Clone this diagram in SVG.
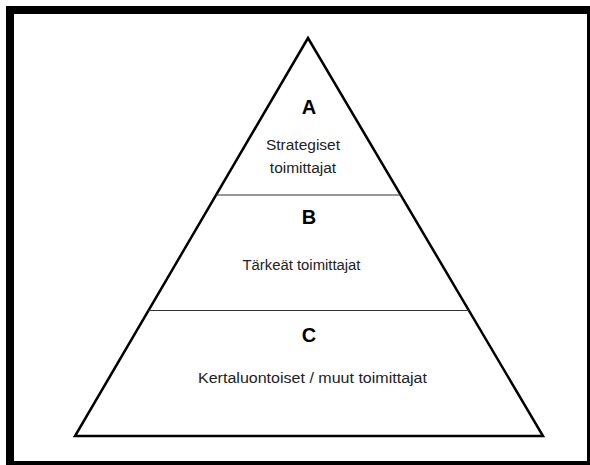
<svg xmlns="http://www.w3.org/2000/svg" width="590" height="465" viewBox="0 0 590 465">
<style>
.lbl{font-family:"Liberation Sans",Arial,sans-serif;font-size:15.5px;fill:#222;text-anchor:middle}
.big{font-family:"Liberation Sans",Arial,sans-serif;font-size:20px;font-weight:bold;fill:#000;text-anchor:middle}
.div{stroke:#333;stroke-width:1.2}
</style>
<rect x="0" y="0" width="590" height="465" fill="#fff"/>
<rect x="10" y="10" width="581" height="455" fill="none" stroke="#000" stroke-width="8"/>
<g id="pyramid">
<polygon points="308,38 75,436 543,436" fill="#fff" stroke="#000" stroke-width="2.5" stroke-linejoin="miter"/>
</g>
<g id="connectors">
<line class="div" x1="216" y1="195" x2="401" y2="195"/>
<line class="div" x1="148" y1="310.5" x2="469" y2="310.5"/>
</g>
<g id="tierA">
<text class="big" x="309" y="114">A</text>
<text class="lbl" x="303" y="150">Strategiset</text>
<text class="lbl" x="303" y="173">toimittajat</text>
</g>
<g id="tierB">
<text class="big" x="309" y="224">B</text>
<text class="lbl" x="301.5" y="270" textLength="118" lengthAdjust="spacingAndGlyphs">Tärkeät toimittajat</text>
</g>
<g id="tierC">
<text class="big" x="309" y="342">C</text>
<text class="lbl" x="312.5" y="383" textLength="229" lengthAdjust="spacingAndGlyphs">Kertaluontoiset / muut toimittajat</text>
</g>
</svg>
